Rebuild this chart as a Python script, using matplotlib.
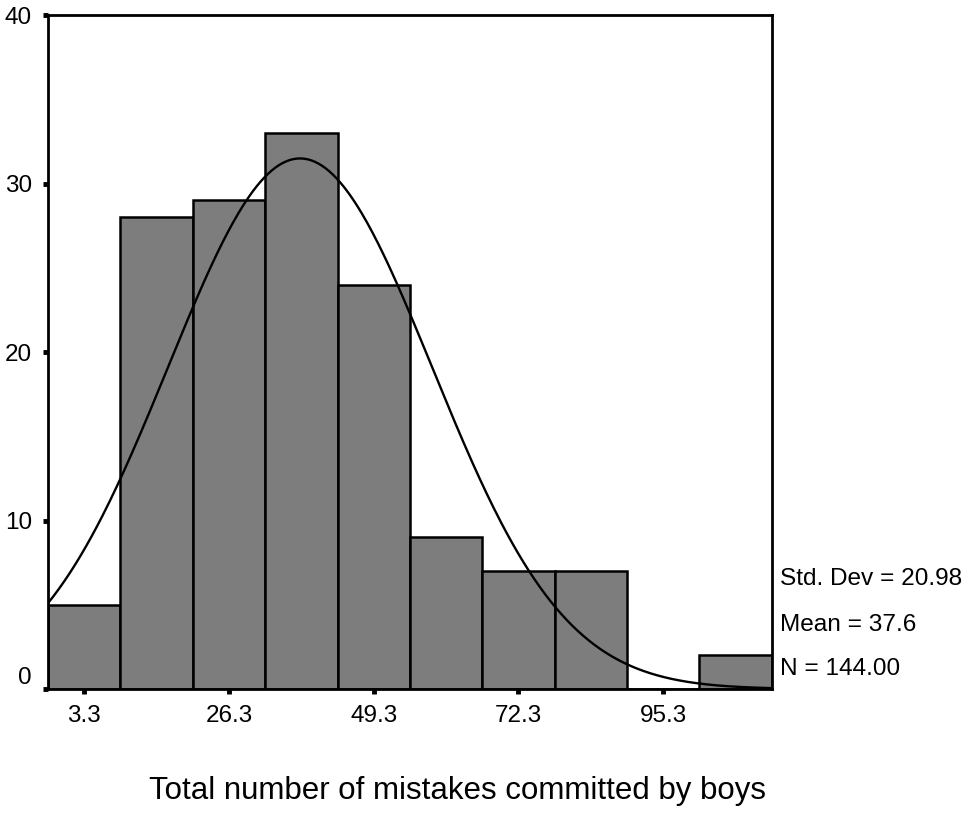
import numpy as np
import matplotlib
matplotlib.use("Agg")
import matplotlib.pyplot as plt

plt.rcParams["font.family"] = ["Liberation Sans", "DejaVu Sans"]

# histogram of mistakes (boys), SPSS style
bin_centers = [3.3, 14.8, 26.3, 37.8, 49.3, 60.8, 72.3, 83.8, 95.3, 106.8]
counts = [5, 28, 29, 33, 24, 9, 7, 7, 0, 2]
tick_labels = ["3.3", "26.3", "49.3", "72.3", "95.3"]
mean_val, sd_val, n_val = 37.6, 20.98, 144
bin_w = 11.5

fig = plt.figure(figsize=(9.69, 8.13), dpi=100)
ax = fig.add_axes([0.0495, 0.1525, 0.747, 0.829])

ax.bar(bin_centers, counts, width=bin_w, color="#7d7d7d", edgecolor="black", linewidth=1.8, zorder=2)

# fitted normal curve scaled to counts
lo = bin_centers[0] - bin_w / 2
hi = bin_centers[-1] + bin_w / 2
xs = np.linspace(lo, hi, 400)
ys = n_val * bin_w / (sd_val * np.sqrt(2 * np.pi)) * np.exp(-0.5 * ((xs - mean_val) / sd_val) ** 2)
ax.plot(xs, ys, color="black", linewidth=1.7, zorder=3)

ax.set_xlim(lo, hi)
ax.set_ylim(0, 40)
ax.set_yticks([0, 10, 20, 30, 40])
ax.set_xticks([float(t) for t in tick_labels])
ax.set_xticklabels(tick_labels)
ax.tick_params(axis="both", direction="out", length=3.5, width=3.5, labelsize=17.5)
ax.tick_params(axis="x", pad=8)
ax.tick_params(axis="y", pad=8)
for sp in ax.spines.values():
    sp.set_linewidth(2)

# SPSS lifts the "0" label above the x axis
ax.yaxis.get_major_ticks()[0].label1.set_va("bottom")

ax.set_xlabel("Total number of mistakes committed by boys", fontsize=22.5, va="center")
ax.xaxis.set_label_coords(0.566, -0.151)

stats = [f"Std. Dev = {sd_val:.2f}", f"Mean = {mean_val}", f"N = {n_val:.2f}"]
stat_y = [0.163, 0.095, 0.030]
for s, yy in zip(stats, stat_y):
    ax.text(1.011, yy, s, transform=ax.transAxes, fontsize=17.6, va="center", ha="left")

fig.savefig("out.png", dpi=100)
